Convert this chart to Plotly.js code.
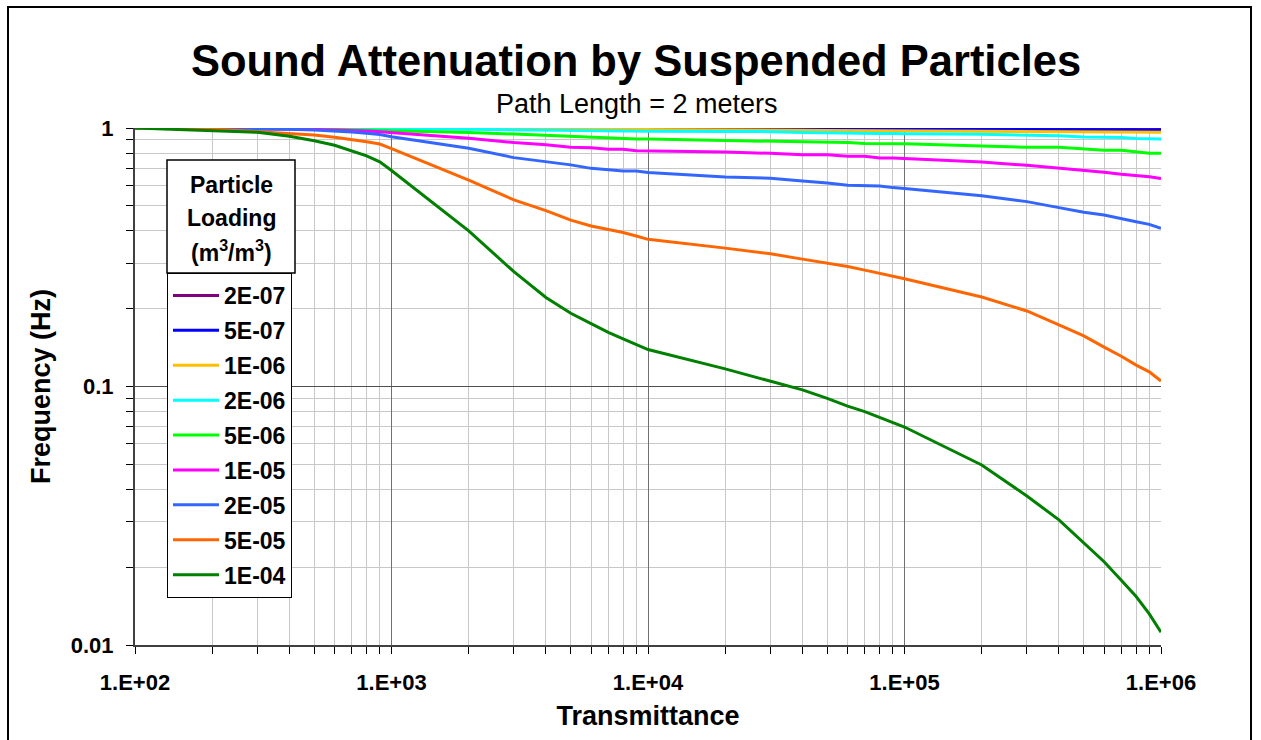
<!DOCTYPE html>
<html>
<head>
<meta charset="utf-8">
<script src="https://cdn.plot.ly/plotly-3.0.1.min.js"></script>
<style>html,body{margin:0;padding:0;background:#fff;}#chart{width:1261px;height:740px;}</style>
</head>
<body>
<div id="chart"></div>
<script>
// Transmittance values (x)
const transmittance = [100,200,300,400,500,600,700,800,900,
  1000,2000,3000,4000,5000,6000,7000,8000,9000,
  10000,20000,30000,40000,50000,60000,70000,80000,90000,
  100000,200000,300000,400000,500000,600000,700000,800000,900000,1000000];

const seriesNames = ['2E-07','5E-07','1E-06','2E-06','5E-06','1E-05','2E-05','5E-05','1E-04'];
const seriesColors = ['#800080','#0000FF','#FFC000','#00FFFF','#00FF00','#FF00FF','#3366FF','#FF6600','#008000'];

const load2e7 = [1,1,1,1,1,1,1,1,1,
  0.999,0.999,0.999,0.998,0.998,0.998,0.998,0.998,0.998,
  0.998,0.997,0.997,0.997,0.996,0.996,0.996,0.996,0.996,
  0.996,0.995,0.995,0.994,0.994,0.994,0.993,0.993,0.993,0.993];
const load5e7 = [1,1,1,1,1,0.999,0.999,0.999,0.999,
  0.998,0.997,0.996,0.996,0.995,0.995,0.995,0.994,0.994,
  0.994,0.993,0.992,0.992,0.991,0.991,0.990,0.990,0.990,
  0.990,0.988,0.987,0.986,0.985,0.985,0.984,0.984,0.983,0.983];
const load1e6 = [1,1,1,0.999,0.999,0.999,0.998,0.998,0.998,
  0.997,0.994,0.992,0.990,0.989,0.988,0.987,0.987,0.986,
  0.985,0.983,0.981,0.980,0.979,0.978,0.977,0.977,0.976,
  0.976,0.972,0.970,0.968,0.966,0.965,0.964,0.963,0.962,0.962];
const load2e6 = [1,1,0.999,0.999,0.998,0.998,0.997,0.996,0.996,
  0.994,0.988,0.983,0.980,0.977,0.975,0.974,0.973,0.972,
  0.972,0.970,0.968,0.960,0.956,0.955,0.954,0.953,0.952,
  0.950,0.945,0.940,0.934,0.922,0.920,0.918,0.910,0.907,0.906];
const load5e6 = [1,0.998,0.996,0.993,0.990,0.987,0.984,0.981,0.978,
  0.975,0.960,0.948,0.937,0.926,0.920,0.912,0.910,0.907,
  0.906,0.896,0.888,0.885,0.883,0.878,0.872,0.872,0.871,
  0.870,0.852,0.842,0.842,0.827,0.820,0.820,0.808,0.798,0.798];
const load1e5 = [1,0.998,0.995,0.992,0.988,0.984,0.979,0.973,0.967,
  0.960,0.912,0.878,0.862,0.842,0.839,0.827,0.827,0.817,
  0.816,0.808,0.798,0.788,0.788,0.777,0.777,0.766,0.766,
  0.763,0.739,0.717,0.698,0.688,0.674,0.662,0.656,0.648,0.637];
const load2e5 = [1,0.997,0.993,0.988,0.982,0.975,0.965,0.955,0.943,
  0.925,0.835,0.768,0.741,0.720,0.698,0.688,0.682,0.682,
  0.673,0.646,0.639,0.624,0.613,0.600,0.598,0.597,0.588,
  0.583,0.547,0.519,0.492,0.472,0.461,0.445,0.434,0.424,0.409];
const load5e5 = [1,0.99,0.968,0.953,0.94,0.92,0.904,0.885,0.867,
  0.832,0.629,0.527,0.479,0.440,0.418,0.406,0.394,0.382,
  0.371,0.343,0.326,0.311,0.300,0.291,0.282,0.274,0.268,
  0.261,0.222,0.196,0.173,0.157,0.142,0.131,0.121,0.114,0.105];
const load1e4 = [1,0.975,0.962,0.93,0.893,0.857,0.817,0.78,0.74,
  0.685,0.40,0.278,0.221,0.192,0.175,0.162,0.153,0.145,
  0.139,0.117,0.105,0.097,0.090,0.084,0.080,0.076,0.073,
  0.0697,0.0497,0.0377,0.0305,0.0248,0.021,0.0178,0.0154,0.0132,0.0112];

const seriesValues = [load2e7,load5e7,load1e6,load2e6,load5e6,load1e5,load2e5,load5e5,load1e4];

const xTickVals = [100,1000,10000,100000,1000000];
const xTickText = ['1.E+02','1.E+03','1.E+04','1.E+05','1.E+06'];
const xMinorVals = [200,300,400,500,600,700,800,900,2000,3000,4000,5000,6000,7000,8000,9000,
  20000,30000,40000,50000,60000,70000,80000,90000,200000,300000,400000,500000,600000,700000,800000,900000];
const yTickVals = [0.01,0.1,1];
const yTickText = ['0.01','0.1','1'];
const yMinorVals = [0.02,0.03,0.04,0.05,0.06,0.07,0.08,0.09,0.2,0.3,0.4,0.5,0.6,0.7,0.8,0.9];
const legendTitleLines = ['Particle','Loading','(m<sup>3</sup>/m<sup>3</sup>)'];

const FONT = 'Liberation Sans, Arial, sans-serif';

// pixel helpers for layout placement (plot area: x 135..1161, y 128..645)
const px = v => (v - 135) / 1026;
const py = v => (645 - v) / 517;

const traces = seriesNames.map((name, i) => ({
  x: transmittance,
  y: seriesValues[i],
  type: 'scatter',
  mode: 'lines',
  name: name,
  legendgroup: 'g' + i,
  line: {color: seriesColors[i], width: 3}
}));

const titleLineY = [185, 218, 251];
const annotations = [
  {
    xref: 'paper', yref: 'paper',
    x: px(636), y: py(104),
    xanchor: 'center', yanchor: 'middle', showarrow: false,
    text: 'Path Length = 2 meters',
    font: {family: FONT, size: 27, color: '#000'}
  }
].concat(legendTitleLines.map((t, i) => ({
  xref: 'paper', yref: 'paper',
  x: px(231), y: py(titleLineY[i]),
  xanchor: 'center', yanchor: 'middle', showarrow: false,
  text: '<b>' + t + '</b>',
  font: {family: FONT, size: 23, color: '#000'}
})));

const layout = {
  width: 1261, height: 740,
  paper_bgcolor: '#fff', plot_bgcolor: '#fff',
  margin: {l: 135, r: 100, t: 128, b: 95},
  showlegend: true,
  font: {family: FONT, color: '#000'},
  title: {
    text: '<b>Sound Attenuation by Suspended Particles</b>',
    font: {family: FONT, size: 43.5, color: '#000'},
    x: 636/1261, xanchor: 'center', xref: 'container',
    y: 1 - 61/740, yanchor: 'middle', yref: 'container'
  },
  xaxis: {
    type: 'log', range: [2, 6],
    tickmode: 'array', tickvals: xTickVals, ticktext: xTickText,
    ticks: 'outside', ticklen: 7, tickcolor: '#000', tickwidth: 1,
    tickfont: {family: FONT, size: 22, weight: 'bold'},
    ticklabelstandoff: 10,
    showgrid: true, gridcolor: '#707070', gridwidth: 1,
    showline: true, linecolor: '#404040', linewidth: 2,
    minor: {tickmode: 'array', tickvals: xMinorVals, ticks: 'outside', ticklen: 7, tickcolor: '#000',
            showgrid: true, gridcolor: '#c8c8c8', gridwidth: 1},
    title: {text: '<b>Transmittance</b>', font: {family: FONT, size: 27}, standoff: 12}
  },
  yaxis: {
    type: 'log', range: [-2, 0],
    tickmode: 'array', tickvals: yTickVals, ticktext: yTickText,
    ticks: 'outside', ticklen: 7, tickcolor: '#000', tickwidth: 1,
    tickfont: {family: FONT, size: 22, weight: 'bold'},
    ticklabelstandoff: 8,
    showgrid: true, gridcolor: '#505050', gridwidth: 1,
    showline: true, linecolor: '#404040', linewidth: 2,
    minor: {tickmode: 'array', tickvals: yMinorVals, ticks: 'outside', ticklen: 7, tickcolor: '#000',
            showgrid: true, gridcolor: '#c8c8c8', gridwidth: 1},
    title: {text: '<b>Frequency (Hz)</b>', font: {family: FONT, size: 27}, standoff: 12}
  },
  legend: {
    x: px(167), xanchor: 'left',
    y: py(273), yanchor: 'top',
    bgcolor: '#fff', bordercolor: '#000', borderwidth: 1,
    font: {family: FONT, size: 23, weight: 'bold', color: '#000'},
    tracegroupgap: 2,
    itemwidth: 46,
    entrywidth: 73, entrywidthmode: 'pixels'
  },
  annotations: annotations,
  shapes: [
    {type: 'rect', xref: 'paper', yref: 'paper',
     x0: px(8), x1: px(1251), y0: py(760), y1: py(7),
     line: {color: '#000', width: 2}, fillcolor: 'rgba(0,0,0,0)', layer: 'below'},
    {type: 'rect', xref: 'paper', yref: 'paper',
     x0: px(167), x1: px(295), y0: py(273), y1: py(160),
     line: {color: '#000', width: 1.5}, fillcolor: '#fff', layer: 'above'}
  ]
};

Plotly.newPlot('chart', traces, layout, {staticPlot: true, displayModeBar: false});
</script>
</body>
</html>
